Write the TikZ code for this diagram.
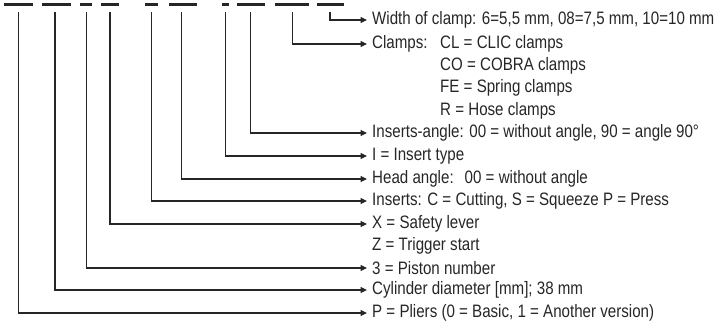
\documentclass[tikz,border=0pt]{standalone}
\usepackage{fontspec}
\setmainfont{Liberation Sans}[FakeStretch=0.84]
\usetikzlibrary{arrows.meta}
\begin{document}
\begin{tikzpicture}[x=1pt,y=-1pt,
  dashseg/.style={line width=2.4pt,color=black!85},
  lead/.style={line width=1.1pt,color=black!85,-{Triangle[length=6.5pt,width=6pt]}},
  lbl/.style={anchor=west,inner xsep=5pt,inner ysep=3pt,font=\fontsize{18}{21}\selectfont,text=black!85}]
\useasboundingbox (0,0) rectangle (720,323);
% code segments
\foreach \a/\b in {4/33,42/71,80/92,101/119,145/158,169/197,222/229,237/265,275/309,317/344}
  \draw[dashseg] (\a,4.7) -- (\b,4.7);
% labels
\node[lbl] (w)   at (367,20)  {Width of clamp: 6=5,5 mm, 08=7,5 mm, 10=10 mm};
\node[lbl] (cl)  at (367,44)  {Clamps:};
\node[lbl] (clv) at (435,44)  {CL = CLIC clamps};
\node[lbl] (co)  at (435,66)  {CO = COBRA clamps};
\node[lbl] (fe)  at (435,88)  {FE = Spring clamps};
\node[lbl] (r)   at (435,111) {R = Hose clamps};
\node[lbl] (ia)  at (367,133) {Inserts-angle: 00 = without angle, 90 = angle 90°};
\node[lbl] (it)  at (367,156) {I = Insert type};
\node[lbl] (ha)  at (367,179) {Head angle:\hspace{0.3em} 00 = without angle};
\node[lbl] (in)  at (367,201) {Inserts: C = Cutting, S = Squeeze P = Press};
\node[lbl] (x)   at (367,224) {X = Safety lever};
\node[lbl] (z)   at (367,246) {Z = Trigger start};
\node[lbl] (pn)  at (367,268) {3 = Piston number};
\node[lbl] (cd)  at (367,290) {Cylinder diameter [mm]; 38 mm};
\node[lbl] (p)   at (367,313) {P = Pliers (0 = Basic, 1 = Another version)};
% connector start points
\foreach \n/\xx in {w/330,cl/292.3,ia/250.7,it/225.7,ha/181.7,in/151.7,x/110,pn/86.3,cd/55,p/18.7}
  \coordinate (s\n) at (\xx,12);
\foreach \n in {w,cl,ia,it,ha,in,x,pn,cd,p}
  \draw[lead] (s\n) |- (\n.west);
\end{tikzpicture}
\end{document}
